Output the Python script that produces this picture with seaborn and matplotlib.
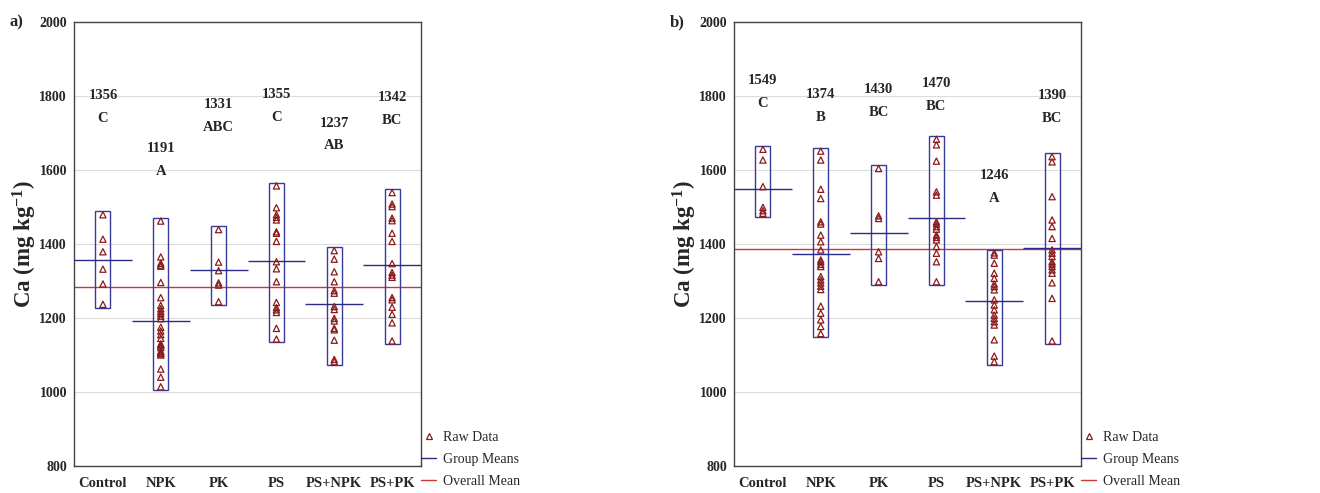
import pandas as pd
import seaborn as sns
import matplotlib.pyplot as plt
from matplotlib.patches import Rectangle
from matplotlib.lines import Line2D

treatments = ["Control", "NPK", "PK", "PS", "PS+NPK", "PS+PK"]

# panel a)
raw_a = [
    [1479, 1413, 1379, 1332, 1292, 1237],
    [1462, 1365, 1348, 1343, 1340, 1296, 1255, 1234, 1225, 1218, 1212, 1205, 1198, 1175, 1165,
     1155, 1145, 1130, 1128, 1125, 1120, 1110, 1108, 1105, 1103, 1100, 1062, 1040, 1014],
    [1439, 1351, 1328, 1295, 1289, 1244],
    [1557, 1498, 1479, 1472, 1465, 1433, 1429, 1407, 1352, 1333, 1298, 1242, 1228, 1222, 1215, 1172, 1143],
    [1382, 1359, 1325, 1298, 1274, 1267, 1231, 1223, 1199, 1192, 1172, 1168, 1140, 1088, 1082],
    [1539, 1508, 1501, 1470, 1463, 1429, 1407, 1347, 1323, 1316, 1310, 1255, 1249, 1229, 1210, 1187, 1138],
]
means_a = [1356, 1191, 1331, 1355, 1237, 1342]
letters_a = ["C", "A", "ABC", "C", "AB", "BC"]
overall_a = 1283

# panel b)
raw_b = [
    [1656, 1627, 1555, 1499, 1490, 1483],
    [1651, 1627, 1548, 1523, 1460, 1454, 1424, 1406, 1384, 1357, 1352, 1345, 1339, 1312, 1303,
     1295, 1286, 1277, 1232, 1213, 1195, 1177, 1158],
    [1604, 1476, 1469, 1379, 1361, 1298],
    [1683, 1668, 1624, 1541, 1532, 1460, 1454, 1447, 1440, 1424, 1418, 1411, 1393, 1375, 1352, 1298],
    [1376, 1370, 1348, 1321, 1307, 1292, 1285, 1276, 1249, 1235, 1222, 1208, 1199, 1190, 1181, 1141, 1097, 1082],
    [1636, 1622, 1528, 1465, 1447, 1415, 1384, 1375, 1366, 1352, 1346, 1339, 1330, 1321, 1295, 1253, 1138],
]
means_b = [1549, 1374, 1430, 1470, 1246, 1390]
letters_b = ["C", "B", "BC", "BC", "A", "BC"]
overall_b = 1386

# where the mean / letter labels sit (layout)
label_y_a = [1800, 1659, 1778, 1803, 1727, 1797]
label_y_b = [1843, 1803, 1818, 1834, 1584, 1800]

sns.set_style("white")
plt.rcParams["font.family"] = ["Liberation Serif", "DejaVu Serif"]
plt.rcParams["font.weight"] = "bold"
plt.rcParams["mathtext.fontset"] = "custom"
plt.rcParams["mathtext.rm"] = "Liberation Serif:bold"
plt.rcParams["mathtext.default"] = "rm"

pt_col = "#8b1a1a"
box_col = "#3a3a98"
mean_col = "#2a2a88"
overall_col = "#c83a3a"


def draw_panel(ax, raw, means, letters, overall, label_y, tag, tag_x):
    rows = []
    for t, vals in zip(treatments, raw):
        for v in vals:
            rows.append({"treatment": t, "Ca": v})
    df = pd.DataFrame(rows)

    ax.axhline(overall, color=overall_col, lw=1, zorder=2)
    for i, vals in enumerate(raw):
        pad = 9
        ax.add_patch(Rectangle((i - 0.13, min(vals) - pad), 0.26, max(vals) - min(vals) + 2 * pad,
                               fill=False, ec=box_col, lw=1, zorder=3))
        ax.hlines(means[i], i - 0.5, i + 0.5, color=mean_col, lw=1, zorder=3)
        ax.text(i, label_y[i], str(means[i]), ha="center", va="center", fontsize=10.5, fontweight="bold")
        ax.text(i, label_y[i] - 62, letters[i], ha="center", va="center", fontsize=10.5, fontweight="bold")

    sns.stripplot(data=df, x="treatment", y="Ca", order=treatments, jitter=False, marker="^",
                  size=4.5, facecolor="none", edgecolor=pt_col, linewidth=0.9, ax=ax, zorder=4)

    ax.set_xlim(-0.5, 5.5)
    ax.set_ylim(800, 2000)
    ax.set_yticks(range(800, 2001, 200))
    ax.set_xlabel("")
    ax.set_ylabel(r"Ca (mg kg$^{-1}$)", fontsize=16.5, fontweight="bold", labelpad=0)
    ax.yaxis.grid(True, color="#dcdcdc", lw=0.8)
    ax.set_axisbelow(True)
    ax.tick_params(axis="y", length=0, pad=5, labelsize=10)
    ax.tick_params(axis="x", direction="in", length=3, pad=8, labelsize=10.5, color="#555555")
    for s in ax.spines.values():
        s.set_color("#444444")
        s.set_linewidth(1)

    handles = [
        Line2D([], [], marker="^", ls="none", mfc="none", mec=pt_col, ms=5, mew=0.9),
        Line2D([], [], color=mean_col, lw=1),
        Line2D([], [], color=overall_col, lw=1),
    ]
    ax.legend(handles, ["Raw Data", "Group Means", "Overall Mean"], loc="lower left",
              bbox_to_anchor=(1.0, -0.05), frameon=False, borderaxespad=0, borderpad=0,
              handlelength=1.1, handletextpad=0.5, labelspacing=0.65,
              prop={"family": "Liberation Serif", "size": 10, "weight": "normal"})
    fig.text(tag_x, 1 - 22 / 493, tag, ha="left", va="center", fontsize=12, fontweight="bold")


fig = plt.figure(figsize=(13.2, 4.93), dpi=100)
ax_a = fig.add_axes([74 / 1320, 27 / 493, 347 / 1320, 444 / 493])
ax_b = fig.add_axes([734 / 1320, 27 / 493, 347 / 1320, 444 / 493])

draw_panel(ax_a, raw_a, means_a, letters_a, overall_a, label_y_a, "a)", 10 / 1320)
draw_panel(ax_b, raw_b, means_b, letters_b, overall_b, label_y_b, "b)", 670 / 1320)

fig.savefig("out.png", dpi=100)
